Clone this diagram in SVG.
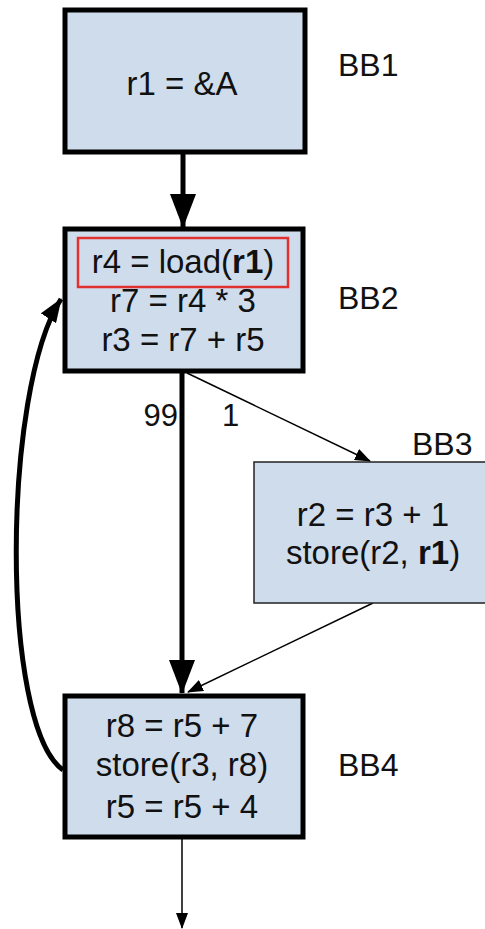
<svg xmlns="http://www.w3.org/2000/svg" width="485" height="929" viewBox="0 0 485 929">
<style>
.box{fill:#cfdcec;stroke:#000;stroke-width:5}
.thinbox{fill:#cfdcec;stroke:#222;stroke-width:1.5}
.t{font-family:"Liberation Sans",Arial,sans-serif;font-size:33px;fill:#111;text-anchor:middle}
.lbl{font-family:"Liberation Sans",Arial,sans-serif;font-size:32px;fill:#111}
.elbl{font-family:"Liberation Sans",Arial,sans-serif;font-size:31px;fill:#111}
.thick{stroke:#000;stroke-width:5;fill:none}
.thin{stroke:#000;stroke-width:1.5;fill:none}
</style>
<defs>
<marker id="bigArrow" markerUnits="userSpaceOnUse" markerWidth="34" markerHeight="26" refX="33" refY="13" orient="auto">
<path d="M0,0 L34,13 L0,26 Z" fill="#000"/>
</marker>
<marker id="midArrow" markerUnits="userSpaceOnUse" markerWidth="24" markerHeight="18" refX="23" refY="9" orient="auto">
<path d="M0,0 L24,9 L0,18 Z" fill="#000"/>
</marker>
<marker id="smallArrow" markerUnits="userSpaceOnUse" markerWidth="16" markerHeight="12" refX="15" refY="6" orient="auto">
<path d="M0,0 L16,6 L0,12 Z" fill="#000"/>
</marker>
</defs>
<rect width="485" height="929" fill="#fff"/>
<g id="connectors">
<line class="thick" x1="183" y1="153" x2="183" y2="227" marker-end="url(#bigArrow)"/>
<line class="thick" x1="182" y1="372" x2="182" y2="693" marker-end="url(#bigArrow)"/>
<line class="thin" x1="187" y1="373" x2="370" y2="461" marker-end="url(#smallArrow)"/>
<line class="thin" x1="373" y1="603" x2="188" y2="692" marker-end="url(#smallArrow)"/>
<line class="thin" x1="182" y1="838" x2="182" y2="928" marker-end="url(#smallArrow)"/>
<path class="thick" d="M63,770 C0,725 2,390 61,299" marker-end="url(#midArrow)"/>
<text class="elbl" x="178" y="426" text-anchor="end">99</text>
<text class="elbl" x="222" y="426">1</text>
</g>
<g id="BB1">
<rect class="box" x="65" y="10" width="240" height="142"/>
<text class="t" x="182" y="95">r1 = &amp;A</text>
<text class="lbl" x="338" y="76">BB1</text>
</g>
<g id="BB2">
<rect class="box" x="65" y="229" width="238" height="142"/>
<rect x="78" y="238" width="210" height="49" fill="none" stroke="#e03030" stroke-width="2.5"/>
<text class="t" x="183" y="273">r4 = load(<tspan font-weight="bold">r1</tspan>)</text>
<text class="t" x="183" y="312">r7 = r4 * 3</text>
<text class="t" x="183" y="351">r3 = r7 + r5</text>
<text class="lbl" x="338" y="309">BB2</text>
</g>
<g id="BB3">
<rect class="thinbox" x="254" y="462" width="240" height="141"/>
<text class="t" x="373" y="526">r2 = r3 + 1</text>
<text class="t" x="373" y="564">store(r2, <tspan font-weight="bold">r1</tspan>)</text>
<text class="lbl" x="412" y="455">BB3</text>
</g>
<g id="BB4">
<rect class="box" x="65" y="696" width="238" height="141"/>
<text class="t" x="182" y="737">r8 = r5 + 7</text>
<text class="t" x="182" y="776">store(r3, r8)</text>
<text class="t" x="182" y="818">r5 = r5 + 4</text>
<text class="lbl" x="338" y="776">BB4</text>
</g>
</svg>
